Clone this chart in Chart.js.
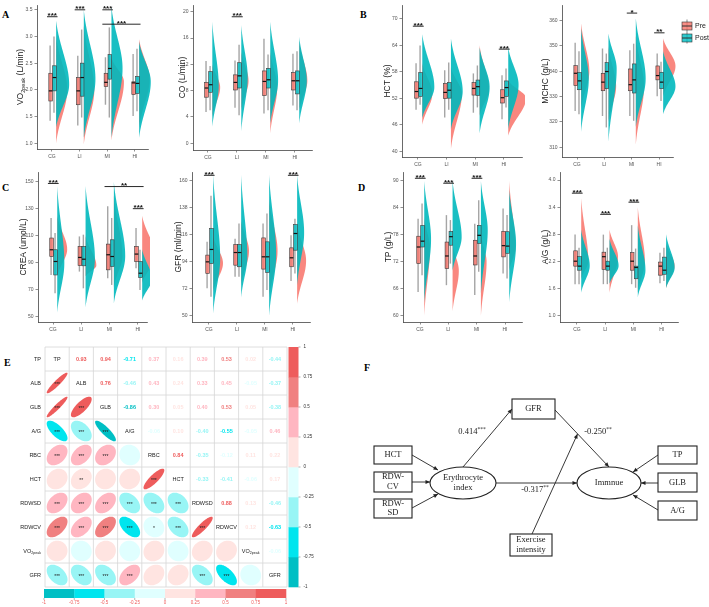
<!DOCTYPE html>
<html><head><meta charset="utf-8">
<script src="https://cdn.jsdelivr.net/npm/chart.js@4.4.1/dist/chart.umd.min.js"></script>
<style>
html,body{margin:0;padding:0;background:#fff;}
body{width:709px;height:607px;position:relative;overflow:hidden;}
canvas{position:absolute;}
.pl{position:absolute;font-family:"Liberation Serif","Times New Roman",serif;font-weight:bold;font-size:10px;line-height:10px;color:#000;}
</style></head><body>
<div class="pl" style="left:2px;top:10px">A</div>
<div class="pl" style="left:360px;top:10px">B</div>
<div class="pl" style="left:2px;top:183px">C</div>
<div class="pl" style="left:358px;top:183px">D</div>
<div class="pl" style="left:4px;top:358px">E</div>
<div class="pl" style="left:364px;top:363px">F</div>
<script>
// ---------------- DATA ----------------
const groups = ['CG','LI','MI','HI'];
// box stats per group: [low whisker, Q1, median, Q3, high whisker]
// violin per group: [lowest, mode, highest, peak density (group widths)]
// significance: [from group, to group, y, label]

// VO2peak (L/min)
const vo2Ticks = [1.0,1.5,2.0,2.5,3.0,3.5];
const vo2TickLabels = ['1.0','1.5','2.0','2.5','3.0','3.5'];
const vo2PreBox  = [[1.42,1.79,1.98,2.31,2.83],[1.33,1.72,1.98,2.23,2.64],[1.72,2.06,2.14,2.31,2.61],[1.51,1.91,2.13,2.15,2.67]];
const vo2PostBox = [[1.57,1.98,2.23,2.45,3.00],[1.48,1.88,2.23,2.50,3.13],[1.48,2.20,2.40,2.66,3.17],[1.60,1.93,2.12,2.25,2.77]];
const vo2PreViolin  = [[1.0,2.0,3.0,0.40],[0.98,2.0,3.2,0.38],[1.05,2.15,2.6,0.45],[1.3,2.2,2.95,0.38]];
const vo2PostViolin = [[1.3,2.1,3.3,0.47],[1.1,2.2,3.5,0.42],[1.1,2.4,3.56,0.40],[1.1,2.15,2.9,0.42]];
const vo2Sig = [[1,1,3.37,'***'],[2,2,3.5,'***'],[3,3,3.5,'***'],[3,4,3.23,'***']];

// CO (L/min)
const coTicks = [0,4,8,12,16,20];
const coTickLabels = ['0','4','8','12','16','20'];
const coPreBox  = [[4.75,7.0,8.4,9.25,12.5],[5.4,8.1,9.25,10.4,12.6],[4.5,7.25,9.4,11.0,15.9],[5.75,8.1,9.5,10.75,13.6]];
const coPostBox = [[5.0,7.75,8.9,10.9,11.75],[4.25,8.4,10.25,12.25,15.0],[5.0,8.4,9.65,11.4,13.5],[5.0,7.5,9.5,11.0,14.0]];
const coPreViolin  = [[4.0,8.5,12.0,0.27],[5.0,9.5,14.0,0.25],[1.5,8.5,14.0,0.24],[5.0,9.5,15.5,0.28]];
const coPostViolin = [[2.5,8.7,18.5,0.22],[1.8,10.0,18.0,0.22],[3.0,9.5,18.5,0.27],[3.0,9.5,16.2,0.26]];
const coSig = [[2,2,19.25,'***']];

// HCT (%)
const hctTicks = [40,46,52,58,64,70];
const hctTickLabels = ['40','46','52','58','64','70'];
const hctPreBox  = [[49.4,52.0,53.5,55.7,59.9],[47.6,51.9,53.3,55.3,58.3],[48.7,52.7,54.2,55.5,57.6],[47.2,50.9,52.1,53.9,57.2]];
const hctPostBox = [[50.5,52.4,54.2,57.8,63.9],[49.4,52.0,53.8,55.5,60.1],[49.9,52.6,54.6,56.1,59.4],[49.9,52.4,54.4,55.9,58.7]];
const hctPreViolin  = [[46,53,60,0.35],[40.5,53,59,0.38],[48,54,64,0.33],[43.5,52,56,0.62]];
const hctPostViolin = [[47.5,54.5,66.5,0.42],[45,53.5,65.5,0.41],[44,54.5,63.5,0.35],[45,55,63.5,0.36]];
const hctSig = [[1,1,68.3,'***'],[4,4,63.1,'***']];

// MCHC (g/L)
const mchcTicks = [310,320,330,340,350,360];
const mchcTickLabels = ['310','320','330','340','350','360'];
const mchcPreBox  = [[324.3,334.3,339.2,342.2,351.3],[322.3,332.3,335.7,339.2,349.0],[322.3,332.3,334.7,340.9,348.3],[330.1,336.6,338.3,342.1,347.0]];
const mchcPostBox = [[323.0,332.7,336.2,339.5,347.9],[317.8,333.1,339.9,343.4,347.0],[320.4,331.4,336.6,342.9,350.9],[328.2,333.1,335.7,339.6,343.8]];
const mchcPreViolin  = [[325,340,359,0.30],[320,334,350,0.28],[311,334,354,0.30],[330,342,353,0.45]];
const mchcPostViolin = [[316,337,357,0.28],[312,341,355,0.30],[318,337,361,0.36],[323,334,348,0.45]];
const mchcSig = [[3,3,363,'*'],[4,4,355.2,'**']];

// CREA (umol/L)
const creaTicks = [50,70,90,110,130,150];
const creaTickLabels = ['50','70','90','110','130','150'];
const creaPreBox  = [[81,94.7,99.7,108.4,123.3],[83.5,88,94,102.2,109.6],[78.6,84.8,96,103.9,132],[86,91,96.5,102.2,115.8]];
const creaPostBox = [[67.4,81,91,99.7,112.1],[71.1,87.8,92.7,102.2,110.9],[73.6,87.3,94.7,107.1,123.3],[69.9,79.1,82.3,91,99.7]];
const creaPreViolin  = [[80,100,125,0.35],[80,88,110,0.38],[72,95,140,0.30],[75,95,125,0.47]];
const creaPostViolin = [[53,90,147,0.25],[57,93,147,0.33],[60,95,150,0.40],[62,78,100,0.35]];
const creaSig = [[1,1,148.9,'***'],[3,4,146.6,'**'],[4,4,130.2,'***']];

// GFR (ml/min)
const gfrTicks = [50,72,94,116,138,160];
const gfrTickLabels = ['50','72','94','116','138','160'];
const gfrPreBox  = [[72.5,84.7,94.1,99.6,110.4],[82,91.4,101.7,108.2,113],[65.7,88.2,98.2,113.6,125.3],[78.4,90.1,97.4,105.5,115.8]];
const gfrPostBox = [[65.7,92.8,104.2,121.2,148],[82,90.1,101.7,108.2,125.3],[71.1,85.5,98.2,110.4,133.4],[84.7,103.6,117.2,124.5,129.3]];
const gfrPreViolin  = [[70,93,115,0.35],[75,103,128,0.28],[65,103,145,0.30],[60,95,125,0.32]];
const gfrPostViolin = [[52,97,165,0.25],[65,98,165,0.22],[50,100,165,0.25],[75,118,165,0.25]];
const gfrSig = [[1,1,164.6,'***'],[4,4,164.6,'***']];

// TP (g/L)
const tpTicks = [60,66,72,78,84,90];
const tpTickLabels = ['60','66','72','78','84','90'];
const tpPreBox  = [[65.3,71.6,75.3,77.7,81.6],[66.8,70.5,73.3,76.4,82.4],[64.6,71.3,73.3,76.8,80.5],[69.4,73.1,75.6,78.8,83.9]];
const tpPostBox = [[69,75.3,76.6,80.1,85],[71.6,75.7,77.6,78.8,81.3],[69.8,76.1,77.9,80.1,85.7],[68.3,73.9,75.5,78.7,82.4]];
const tpPreViolin  = [[60,75,82,0.20],[61,70,76,0.22],[60,72,78,0.20],[70,75,90,0.22]];
const tpPostViolin = [[63,77,90,0.24],[70,77.5,90,0.32],[65,79,90,0.24],[63,76,88,0.24]];
const tpSig = [[1,1,90.6,'***'],[2,2,89.5,'***'],[3,3,90.6,'***']];

// A/G (g/L)
const agTicks = [1.0,1.6,2.2,2.8,3.4,4.0];
const agTickLabels = ['1.0','1.6','2.2','2.8','3.4','4.0'];
const agPreBox  = [[1.69,2.09,2.2,2.43,2.79],[1.69,2.02,2.3,2.4,2.79],[1.69,2.0,2.2,2.39,3.0],[1.71,1.89,2.09,2.18,2.39]];
const agPostBox = [[1.69,2.0,2.09,2.3,2.5],[1.69,2.0,2.09,2.2,2.5],[1.61,1.81,2.06,2.09,2.48],[1.76,1.91,2.0,2.29,2.5]];
const agPreViolin  = [[1.8,2.2,3.6,0.25],[1.5,2.3,2.9,0.30],[1.5,2.2,3.4,0.25],[1.6,2.1,2.6,0.30]];
const agPostViolin = [[1.5,2.1,2.9,0.30],[1.7,2.1,2.7,0.32],[1.4,2.0,3.0,0.27],[1.6,2.05,2.8,0.30]];
const agSig = [[1,1,3.71,'***'],[2,2,3.24,'***'],[3,3,3.51,'***']];

// Correlation matrix (panel E)
const corrVars = ['TP','ALB','GLB','A/G','RBC','HCT','RDWSD','RDWCV','VO2peak','GFR'];
const corrMatrix = [
  [ 1.00, 0.93, 0.94,-0.71, 0.37, 0.16, 0.39, 0.53, 0.02,-0.44],
  [ 0.93, 1.00, 0.76,-0.46, 0.43, 0.24, 0.33, 0.45,-0.05,-0.37],
  [ 0.94, 0.76, 1.00,-0.86, 0.30, 0.05, 0.40, 0.53, 0.05,-0.38],
  [-0.71,-0.46,-0.86, 1.00,-0.06, 0.10,-0.40,-0.55,-0.05, 0.46],
  [ 0.37, 0.43, 0.30,-0.06, 1.00, 0.84,-0.35,-0.12, 0.11, 0.22],
  [ 0.16, 0.24, 0.05, 0.10, 0.84, 1.00,-0.33,-0.41,-0.06, 0.17],
  [ 0.39, 0.33, 0.40,-0.40,-0.35,-0.33, 1.00, 0.88, 0.13,-0.46],
  [ 0.53, 0.45, 0.53,-0.55,-0.12,-0.41, 0.88, 1.00, 0.12,-0.63],
  [ 0.02,-0.05, 0.05,-0.05, 0.11,-0.06, 0.13, 0.12, 1.00,-0.06],
  [-0.44,-0.37,-0.38, 0.46, 0.22, 0.17,-0.46,-0.63,-0.06, 1.00]
];
const corrStars = [
  [],
  ['***'],
  ['***','***'],
  ['***','***','***'],
  ['***','***','***',''],
  ['','**','','','***'],
  ['***','***','***','***','***','***'],
  ['***','***','***','***','*','***','***'],
  ['','','','','','','',''],
  ['***','***','***','***','','','***','***','']
];
const corrBreaks = [-1,-0.75,-0.5,-0.25,0,0.25,0.5,0.75,1];
const corrBreakLabels = ['-1','-0.75','-0.5','-0.25','0','0.25','0.5','0.75','1'];

// Path model (panel F)
const pathCoefs = ['0.414','-0.250','-0.317'];
const pathStars = ['***','**','**'];

// ---------------- STYLE ----------------
const FF = '"Liberation Sans", Arial, sans-serif';
const SF = '"Liberation Serif", "Times New Roman", serif';
const PRE_V = 'rgba(248,118,109,0.88)', POST_V = 'rgba(0,184,188,0.9)';
const PRE_B = 'rgba(248,118,109,0.82)', POST_B = 'rgba(0,191,196,0.82)';
const PRE_OFF = -0.05, POST_OFF = 0.09, BOX_W = 0.13, VIO_OFF = 0.15;
const BIN_COLS = ['#00BFC4','#00E5EE','#98F5F5','#E0FFFF','#FFE4E1','#FFB6C1','#F08080','#EE5C5C'];

const PANELS = [
 {key:'vo2', title:[['VO',0],['2peak',1],[' (L/min)',0]], ticks:vo2Ticks, labels:vo2TickLabels, pre:vo2PreBox, post:vo2PostBox, preV:vo2PreViolin, postV:vo2PostViolin, sig:vo2Sig,
  L:{cl:15, ct:0, ax:37, top:2, ay:149, right:148, x:[0.458,4.47], y:[0.89,3.59]}},
 {key:'co', title:[['CO (L/min)',0]], ticks:coTicks, labels:coTickLabels, pre:coPreBox, post:coPostBox, preV:coPreViolin, postV:coPostViolin, sig:coSig,
  L:{cl:177, ct:0, ax:193, top:2, ay:150, right:312, x:[0.483,4.59], y:[-1.04,21.04]}},
 {key:'hct', title:[['HCT (%)',0]], ticks:hctTicks, labels:hctTickLabels, pre:hctPreBox, post:hctPostBox, preV:hctPreViolin, postV:hctPostViolin, sig:hctSig,
  L:{cl:382, ct:0, ax:402, top:2, ay:157, right:522, x:[0.442,4.63], y:[38.67,73.1]}},
 {key:'mchc', title:[['MCHC (g/L)',0]], ticks:mchcTicks, labels:mchcTickLabels, pre:mchcPreBox, post:mchcPostBox, preV:mchcPreViolin, postV:mchcPostViolin, sig:mchcSig, legend:true,
  L:{cl:540, ct:0, ax:562, top:2, ay:157, right:673, cr:709, x:[0.451,4.51], y:[306.1,366.2]}},
 {key:'crea', title:[['CREA (umol/L)',0]], ticks:creaTicks, labels:creaTickLabels, pre:creaPreBox, post:creaPostBox, preV:creaPreViolin, postV:creaPostViolin, sig:creaSig,
  L:{cl:18, ct:166, ax:38, top:172, ay:322, right:147, x:[0.47,4.32], y:[46.1,157.4]}},
 {key:'gfr', title:[['GFR (ml/min)',0]], ticks:gfrTicks, labels:gfrTickLabels, pre:gfrPreBox, post:gfrPostBox, preV:gfrPreViolin, postV:gfrPostViolin, sig:gfrSig,
  L:{cl:173, ct:166, ax:192, top:172, ay:322, right:310, x:[0.393,4.61], y:[45.1,167.3]}},
 {key:'tp', title:[['TP (g/L)',0]], ticks:tpTicks, labels:tpTickLabels, pre:tpPreBox, post:tpPostBox, preV:tpPreViolin, postV:tpPostViolin, sig:tpSig,
  L:{cl:383, ct:166, ax:403, top:172, ay:322, right:522, x:[0.4,4.6], y:[58.6,92.0]}},
 {key:'ag', title:[['A/G (g/L)',0]], ticks:agTicks, labels:agTickLabels, pre:agPreBox, post:agPostBox, preV:agPreViolin, postV:agPostViolin, sig:agSig,
  L:{cl:540, ct:166, ax:560, top:172, ay:322, right:678, x:[0.4,4.57], y:[0.85,4.18]}}
];

// ---------------- DRAW HELPERS ----------------
function drawViolin(ctx, xs, ys, g, v, col){
  const [lo, mode, hi, w] = v;
  const base = xs.getPixelForValue(g + VIO_OFF);
  const unit = xs.getPixelForValue(g + 1) - xs.getPixelForValue(g);
  ctx.fillStyle = col;
  ctx.beginPath();
  ctx.moveTo(base, ys.getPixelForValue(lo));
  const N = 90;
  for (let i = 0; i <= N; i++){
    const y = lo + (hi - lo) * i / N;
    const t = y < mode ? (mode - y) / (mode - lo) : (y - mode) / (hi - mode);
    const ww = w * Math.exp(-2.4 * t * t) * (1 - Math.pow(t, 6));
    ctx.lineTo(base + ww * unit, ys.getPixelForValue(y));
  }
  ctx.lineTo(base, ys.getPixelForValue(hi));
  ctx.closePath();
  ctx.fill();
}
function drawWhisker(ctx, xs, ys, xc, b){
  const x = xs.getPixelForValue(xc) - 0.5;
  ctx.strokeStyle = 'rgba(135,135,135,0.75)';
  ctx.lineWidth = 1.4;
  ctx.beginPath();
  ctx.moveTo(x, ys.getPixelForValue(b[0]));
  ctx.lineTo(x, ys.getPixelForValue(b[4]));
  ctx.stroke();
}
function drawBox(ctx, xs, ys, xc, b, fill){
  const x0 = xs.getPixelForValue(xc - BOX_W/2), x1 = xs.getPixelForValue(xc + BOX_W/2);
  const y1 = ys.getPixelForValue(b[1]), y3 = ys.getPixelForValue(b[3]);
  ctx.fillStyle = fill;
  ctx.fillRect(x0, y3, x1 - x0, y1 - y3);
  ctx.strokeStyle = '#3a3a3a'; ctx.lineWidth = 0.6;
  ctx.strokeRect(x0, y3, x1 - x0, y1 - y3);
  const ym = ys.getPixelForValue(b[2]);
  ctx.strokeStyle = '#111'; ctx.lineWidth = 1.2;
  ctx.beginPath(); ctx.moveTo(x0, ym); ctx.lineTo(x1, ym); ctx.stroke();
}
function drawSig(ctx, xs, ys, s){
  const [g1, g2, y, lab] = s;
  const x0 = xs.getPixelForValue(g1 - 0.18), x1 = xs.getPixelForValue(g2 + 0.2);
  const yp = ys.getPixelForValue(y);
  ctx.strokeStyle = '#111'; ctx.lineWidth = 0.9;
  ctx.beginPath(); ctx.moveTo(x0, yp); ctx.lineTo(x1, yp); ctx.stroke();
  ctx.font = 'bold 8px ' + FF; ctx.fillStyle = '#111';
  ctx.textAlign = 'center'; ctx.textBaseline = 'alphabetic';
  ctx.fillText(lab, (x0 + x1)/2, yp + 1.6);
}
function partsWidth(ctx, parts, size, fam){
  let t = 0;
  parts.forEach(([s, sub]) => { ctx.font = (sub ? size*0.65 : size) + 'px ' + fam; t += ctx.measureText(s).width; });
  return t;
}
function drawParts(ctx, parts, x, y, size, fam, color){
  let cx = x;
  ctx.fillStyle = color; ctx.textAlign = 'left';
  parts.forEach(([s, sub]) => {
    ctx.font = (sub ? size*0.65 : size) + 'px ' + fam;
    ctx.fillText(s, cx, sub ? y + size*0.3 : y);
    cx += ctx.measureText(s).width;
  });
}
function drawRotTitle(ctx, parts, x, y, size){
  ctx.save();
  ctx.translate(x, y); ctx.rotate(-Math.PI/2);
  ctx.textBaseline = 'middle';
  const w = partsWidth(ctx, parts, size, FF);
  drawParts(ctx, parts, -w/2, 0, size, FF, '#1a1a1a');
  ctx.restore();
}

function rainPlugin(p){
  return {
    id: 'rain_' + p.key,
    afterDatasetsDraw(chart){
      const ctx = chart.ctx, xs = chart.scales.x, ys = chart.scales.y, ca = chart.chartArea;
      ctx.save();
      for (let i = 0; i < groups.length; i++) drawViolin(ctx, xs, ys, i+1, p.preV[i], PRE_V);
      for (let i = 0; i < groups.length; i++) drawViolin(ctx, xs, ys, i+1, p.postV[i], POST_V);
      for (let i = 0; i < groups.length; i++){
        drawWhisker(ctx, xs, ys, i+1+PRE_OFF, p.pre[i]);
        drawWhisker(ctx, xs, ys, i+1+POST_OFF, p.post[i]);
      }
      for (let i = 0; i < groups.length; i++){
        drawBox(ctx, xs, ys, i+1+PRE_OFF, p.pre[i], PRE_B);
        drawBox(ctx, xs, ys, i+1+POST_OFF, p.post[i], POST_B);
      }
      p.sig.forEach(s => drawSig(ctx, xs, ys, s));
      drawRotTitle(ctx, p.title, 5.5, (ca.top + ca.bottom)/2, 8.5);
      if (p.legend){
        const lx = ca.right + 9;
        [['Pre', PRE_B, 21], ['Post', POST_B, 33]].forEach(([t, c, y]) => {
          ctx.strokeStyle = '#333'; ctx.lineWidth = 0.6;
          ctx.beginPath(); ctx.moveTo(lx + 5, y - 1.5); ctx.lineTo(lx + 5, y + 10.5); ctx.stroke();
          ctx.fillStyle = c; ctx.fillRect(lx, y + 1, 10, 8);
          ctx.strokeRect(lx, y + 1, 10, 8);
          ctx.lineWidth = 1; ctx.beginPath(); ctx.moveTo(lx, y + 5); ctx.lineTo(lx + 10, y + 5); ctx.stroke();
          ctx.fillStyle = '#222'; ctx.font = '7px ' + FF; ctx.textAlign = 'left'; ctx.textBaseline = 'middle';
          ctx.fillText(t, lx + 13, y + 5);
        });
      }
      ctx.restore();
    }
  };
}

function makeCanvas(left, top, w, h){
  const cv = document.createElement('canvas');
  cv.width = w; cv.height = h;
  cv.style.left = left + 'px'; cv.style.top = top + 'px';
  cv.style.width = w + 'px'; cv.style.height = h + 'px';
  document.body.appendChild(cv);
  return cv;
}

function rainChart(p){
  const L = p.L;
  const cr = L.cr || (L.right + 3);
  const W = cr - L.cl, H = L.ay + 13 - L.ct;
  const cv = makeCanvas(L.cl, L.ct, W, H);
  const axisCommon = {
    grid: {display: true, drawOnChartArea: false, drawTicks: true, tickLength: 2.5, color: '#444', lineWidth: 0.6},
    border: {display: true, color: '#444', width: 0.8}
  };
  new Chart(cv, {
    type: 'scatter',
    data: {datasets: [
      {label: 'Pre', data: p.pre.map((b, i) => ({x: i + 1 + PRE_OFF, y: b[2]})), pointRadius: 0},
      {label: 'Post', data: p.post.map((b, i) => ({x: i + 1 + POST_OFF, y: b[2]})), pointRadius: 0}
    ]},
    options: {
      responsive: false, animation: false, devicePixelRatio: 1,
      layout: {padding: {left: 0, top: L.top - L.ct, right: cr - L.right, bottom: 0}},
      plugins: {legend: {display: false}, tooltip: {enabled: false}},
      scales: {
        x: Object.assign({
          type: 'linear', min: L.x[0], max: L.x[1], bounds: 'data',
          afterBuildTicks: a => { a.ticks = groups.map((g, i) => ({value: i + 1})); },
          afterFit: a => { a.height = H - (L.ay - L.ct); },
          ticks: {callback: v => groups[Math.round(v) - 1], font: {size: 5, family: FF}, color: '#555', padding: 2, autoSkip: false, maxRotation: 0}
        }, axisCommon),
        y: Object.assign({
          type: 'linear', min: L.y[0], max: L.y[1], bounds: 'data',
          afterBuildTicks: a => { a.ticks = p.ticks.map(v => ({value: v})); },
          afterFit: a => { a.width = L.ax - L.cl; },
          ticks: {callback: v => p.labels[p.ticks.indexOf(v)], font: {size: 5, family: FF}, color: '#555', padding: 2, autoSkip: false}
        }, axisCommon)
      }
    },
    plugins: [rainPlugin(p)]
  });
}
PANELS.forEach(rainChart);

// ---------------- PANEL E: correlation matrix ----------------
function binCol(r){ let i = Math.floor((r + 1) / 0.25); if (i > 7) i = 7; if (i < 0) i = 0; return BIN_COLS[i]; }
function varParts(name){ return name === 'VO2peak' ? [['VO',0],['2peak',1]] : [[name,0]]; }

const corrPlugin = {
  id: 'corr',
  afterDatasetsDraw(chart){
    const ctx = chart.ctx, xs = chart.scales.x, ys = chart.scales.y, ca = chart.chartArea;
    const n = corrVars.length;
    const cw = xs.getPixelForValue(2) - xs.getPixelForValue(1);
    const chh = ys.getPixelForValue(2) - ys.getPixelForValue(1);
    ctx.save();
    ctx.strokeStyle = '#d6d6d6'; ctx.lineWidth = 0.8;
    for (let i = 0; i <= n; i++){
      const x = xs.getPixelForValue(i + 0.5), y = ys.getPixelForValue(i + 0.5);
      ctx.beginPath(); ctx.moveTo(x, ca.top); ctx.lineTo(x, ca.bottom); ctx.stroke();
      ctx.beginPath(); ctx.moveTo(ca.left, y); ctx.lineTo(ca.right, y); ctx.stroke();
    }
    for (let i = 0; i < n; i++){
      const cy = ys.getPixelForValue(i + 1);
      ctx.textBaseline = 'middle';
      const rp = varParts(corrVars[i]);
      const rw = partsWidth(ctx, rp, 5.5, FF);
      drawParts(ctx, rp, ca.left - 4 - rw, cy, 5.5, FF, '#222');
      for (let j = 0; j < n; j++){
        const cx = xs.getPixelForValue(j + 1);
        const r = corrMatrix[i][j];
        if (i === j){
          const dp = varParts(corrVars[i]);
          const dw = partsWidth(ctx, dp, 5.5, FF);
          drawParts(ctx, dp, cx - dw/2, cy, 5.5, FF, '#222');
        } else if (j > i){
          ctx.font = 'bold 5.5px ' + FF; ctx.fillStyle = binCol(r);
          ctx.textAlign = 'center'; ctx.textBaseline = 'middle';
          ctx.fillText(r.toFixed(2), cx, cy);
        } else {
          const d = Math.acos(r);
          ctx.fillStyle = binCol(r);
          ctx.beginPath();
          for (let k = 0; k < 100; k++){
            const t = 2 * Math.PI * k / 99;
            const ex = Math.cos(t + d/2) / 2, ey = Math.cos(t - d/2) / 2;
            const px = cx + 0.86 * ex * cw, py = cy - 0.86 * ey * chh;
            if (k === 0) ctx.moveTo(px, py); else ctx.lineTo(px, py);
          }
          ctx.closePath(); ctx.fill();
          const st = corrStars[i][j];
          if (st){
            ctx.font = '5px ' + FF; ctx.fillStyle = '#222'; ctx.textAlign = 'center'; ctx.textBaseline = 'middle';
            ctx.fillText(st, cx, cy + 1.2);
          }
        }
      }
    }
    const bx = ca.right + 1.5, bw = 10, bh = (ca.bottom - ca.top) / 8;
    for (let k = 0; k < 8; k++){
      ctx.fillStyle = BIN_COLS[k];
      ctx.fillRect(bx, ca.bottom - (k + 1) * bh, bw, bh + 0.3);
    }
    ctx.font = '4.5px ' + FF; ctx.fillStyle = '#333'; ctx.textAlign = 'left'; ctx.textBaseline = 'middle';
    corrBreaks.forEach((b, k) => {
      const y = ca.bottom - k * bh;
      ctx.strokeStyle = '#666'; ctx.lineWidth = 0.5;
      ctx.beginPath(); ctx.moveTo(bx + bw, y); ctx.lineTo(bx + bw + 2, y); ctx.stroke();
      ctx.fillText(corrBreakLabels[k], bx + bw + 5, y);
    });
    const by = ca.bottom + 2, bhh = 9, bl = ca.left - 1, bwid = (ca.right - ca.left) / 8;
    for (let k = 0; k < 8; k++){
      ctx.fillStyle = BIN_COLS[k];
      ctx.fillRect(bl + k * bwid, by, bwid + 0.3, bhh);
    }
    ctx.textAlign = 'center'; ctx.textBaseline = 'top';
    corrBreaks.forEach((b, k) => {
      const x = bl + k * bwid;
      ctx.strokeStyle = '#666'; ctx.lineWidth = 0.5;
      ctx.beginPath(); ctx.moveTo(x, by + bhh); ctx.lineTo(x, by + bhh + 2); ctx.stroke();
      ctx.fillText(corrBreakLabels[k], x, by + bhh + 3);
    });
    ctx.restore();
  }
};
(function(){
  const cv = makeCanvas(0, 340, 330, 267);
  const pts = [];
  corrVars.forEach((a, i) => corrVars.forEach((b, j) => pts.push({x: j + 1, y: i + 1})));
  new Chart(cv, {
    type: 'scatter',
    data: {datasets: [{label: 'r', data: pts, pointRadius: 0}]},
    options: {
      responsive: false, animation: false, devicePixelRatio: 1,
      layout: {padding: {left: 45, right: 43, top: 7, bottom: 20}},
      plugins: {legend: {display: false}, tooltip: {enabled: false}},
      scales: {
        x: {type: 'linear', min: 0.5, max: 10.5, display: false},
        y: {type: 'linear', min: 0.5, max: 10.5, reverse: true, display: false}
      }
    },
    plugins: [corrPlugin]
  });
})();

// ---------------- PANEL F: path model ----------------
const pathLayout = {
  boxes: [
    {lines: ['HCT'], x: 19, y: 91, w: 38, h: 18},
    {lines: ['RDW-', 'CV'], x: 19, y: 117, w: 38, h: 20},
    {lines: ['RDW-', 'SD'], x: 19, y: 144, w: 38, h: 19},
    {lines: ['GFR'], x: 157, y: 44, w: 43, h: 20},
    {lines: ['Exercise', 'intensity'], x: 155, y: 179, w: 42, h: 22},
    {lines: ['TP'], x: 303, y: 91, w: 39, h: 18},
    {lines: ['GLB'], x: 303, y: 118, w: 39, h: 19},
    {lines: ['A/G'], x: 303, y: 146, w: 39, h: 19}
  ],
  ellipses: [
    {lines: ['Erythrocyte', 'index'], x: 108, y: 128, rx: 33, ry: 16},
    {lines: ['Immnue'], x: 254, y: 128, rx: 32, ry: 16}
  ],
  arrows: [
    [57,100,83,115],[57,127,75,127],[57,153,83,139],
    [108,112,157,54],[200,55,254,112],[141,128,222,128],[177,179,222.5,79],
    [303,100,278,117],[303,128,286,128],[303,155,278,140]
  ],
  coefPos: [[117,77],[243,77],[180,135]]
};
const pathPlugin = {
  id: 'path',
  afterDatasetsDraw(chart){
    const ctx = chart.ctx, xs = chart.scales.x, ys = chart.scales.y;
    const X = v => xs.getPixelForValue(v), Y = v => ys.getPixelForValue(v);
    ctx.save();
    const txt = (lines, cx, cy) => {
      ctx.font = '8.5px ' + SF; ctx.fillStyle = '#222'; ctx.textAlign = 'center'; ctx.textBaseline = 'middle';
      const lh = 9.5;
      lines.forEach((l, k) => ctx.fillText(l, cx, cy + (k - (lines.length - 1)/2) * lh));
    };
    pathLayout.boxes.forEach(b => {
      ctx.lineWidth = 1.1; ctx.strokeStyle = '#222';
      ctx.strokeRect(X(b.x), Y(b.y), X(b.x + b.w) - X(b.x), Y(b.y + b.h) - Y(b.y));
      txt(b.lines, X(b.x + b.w/2), Y(b.y + b.h/2));
    });
    pathLayout.ellipses.forEach(e => {
      ctx.lineWidth = 1.1; ctx.strokeStyle = '#222';
      ctx.beginPath(); ctx.ellipse(X(e.x), Y(e.y), e.rx, e.ry, 0, 0, 2*Math.PI); ctx.stroke();
      txt(e.lines, X(e.x), Y(e.y));
    });
    pathLayout.arrows.forEach(a => {
      const x1 = X(a[0]), y1 = Y(a[1]), x2 = X(a[2]), y2 = Y(a[3]);
      ctx.lineWidth = 0.9; ctx.strokeStyle = '#222';
      ctx.beginPath(); ctx.moveTo(x1, y1); ctx.lineTo(x2, y2); ctx.stroke();
      const ang = Math.atan2(y2 - y1, x2 - x1), hl = 4.5, hw = 2;
      ctx.fillStyle = '#222';
      ctx.beginPath(); ctx.moveTo(x2, y2);
      ctx.lineTo(x2 - hl*Math.cos(ang) + hw*Math.sin(ang), y2 - hl*Math.sin(ang) - hw*Math.cos(ang));
      ctx.lineTo(x2 - hl*Math.cos(ang) - hw*Math.sin(ang), y2 - hl*Math.sin(ang) + hw*Math.cos(ang));
      ctx.closePath(); ctx.fill();
    });
    pathCoefs.forEach((c, k) => {
      const [px, py] = pathLayout.coefPos[k];
      ctx.font = '8.5px ' + SF; ctx.textBaseline = 'middle';
      const w1 = ctx.measureText(c).width;
      ctx.font = '5.5px ' + SF;
      const w2 = ctx.measureText(pathStars[k]).width;
      const x0 = X(px) - (w1 + w2)/2;
      ctx.fillStyle = '#222'; ctx.textAlign = 'left';
      ctx.font = '8.5px ' + SF; ctx.fillText(c, x0, Y(py));
      ctx.font = '5.5px ' + SF; ctx.fillText(pathStars[k], x0 + w1, Y(py) - 2);
    });
    ctx.restore();
  }
};
(function(){
  const cv = makeCanvas(355, 355, 354, 252);
  new Chart(cv, {
    type: 'scatter',
    data: {datasets: [{label: 'nodes', data: [], pointRadius: 0}]},
    options: {
      responsive: false, animation: false, devicePixelRatio: 1,
      layout: {padding: 0},
      plugins: {legend: {display: false}, tooltip: {enabled: false}},
      scales: {
        x: {type: 'linear', min: 0, max: 354, display: false},
        y: {type: 'linear', min: 0, max: 252, reverse: true, display: false}
      }
    },
    plugins: [pathPlugin]
  });
})();
</script></body></html>
